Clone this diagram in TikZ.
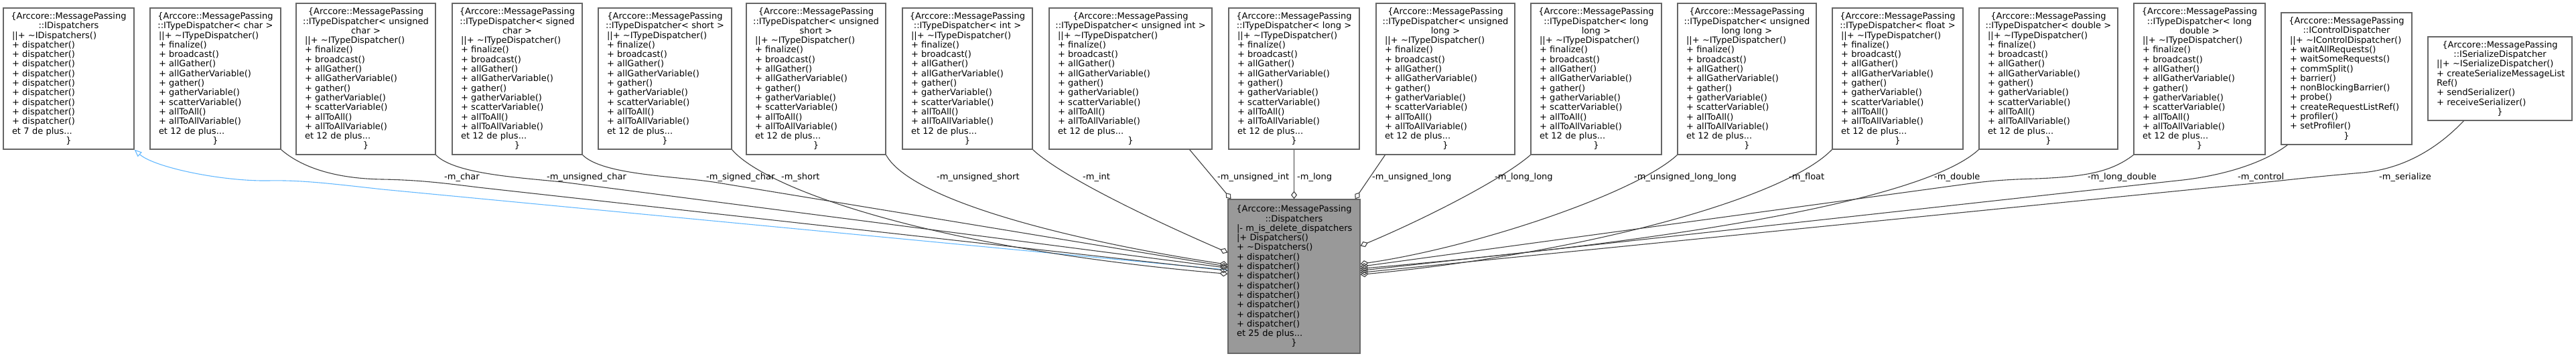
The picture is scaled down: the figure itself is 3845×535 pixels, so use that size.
\documentclass[tikz,border=0pt]{standalone}
\usepackage{fontspec}
\setmainfont{DejaVu Sans}
\usetikzlibrary{arrows.meta,calc}
\definecolor{bordergray}{HTML}{666666}
\definecolor{fillgray}{HTML}{999999}
\definecolor{edgegray}{HTML}{404040}
\definecolor{inhblue}{HTML}{63B8FF}
\newcommand\ctr[1]{\makebox[\hsize]{#1}}
\newcommand\arc{\ctr{\{Arccore::MessagePassing}}
\newcommand\tdbody{||+ \textasciitilde ITypeDispatcher()\\+ finalize()\\+ broadcast()\\+ allGather()\\+ allGatherVariable()\\+ gather()\\+ gatherVariable()\\+ scatterVariable()\\+ allToAll()\\+ allToAllVariable()\\et 12 de plus...\\\ctr{\}}}
\newcommand\dsp{+ dispatcher()}
\begin{document}
\begin{tikzpicture}[x=1pt,y=-1pt,
  bx/.style={draw=bordergray, line width=1.2pt, fill=white, align=left,
    inner xsep=12pt, inner ysep=0pt, font=\fontsize{13}{14.3}\selectfont},
  cur/.style={bx, fill=fillgray},
  mem/.style={draw=edgegray, line width=1.1pt, {Diamond[open,length=12pt,width=9pt]}-},
  inh/.style={draw=inhblue, line width=1.1pt, -{Triangle[open,length=11pt,width=9pt]}},
  lbl/.style={anchor=west, inner sep=0pt, font=\fontsize{13}{14.3}\selectfont}]
\useasboundingbox (0,0) rectangle (3845,535);

% top row
\node[bx,minimum width=195,minimum height=211,text width=169] (idisp) at (102.5,117.5)
 {\arc\\\ctr{::IDispatchers}\\||+ \textasciitilde IDispatchers()\\\dsp\\\dsp\\\dsp\\\dsp\\\dsp\\\dsp\\\dsp\\\dsp\\\dsp\\et 7 de plus...\\\ctr{\}}};
\node[bx,minimum width=195,minimum height=211,text width=169] (tchar) at (321.5,117.5)
 {\arc\\\ctr{::ITypeDispatcher< char >}\\\tdbody};
\node[bx,minimum width=208,minimum height=226,text width=182] (tuchar) at (546,118)
 {\arc\\\ctr{::ITypeDispatcher< unsigned}\\\ctr{char >}\\\tdbody};
\node[bx,minimum width=194,minimum height=226,text width=168] (tschar) at (772,118)
 {\arc\\\ctr{::ITypeDispatcher< signed}\\\ctr{char >}\\\tdbody};
\node[bx,minimum width=199,minimum height=211,text width=173] (tshort) at (992.5,117.5)
 {\arc\\\ctr{::ITypeDispatcher< short >}\\\tdbody};
\node[bx,minimum width=208,minimum height=226,text width=182] (tushort) at (1218,118)
 {\arc\\\ctr{::ITypeDispatcher< unsigned}\\\ctr{short >}\\\tdbody};
\node[bx,minimum width=194,minimum height=211,text width=168] (tint) at (1444,117.5)
 {\arc\\\ctr{::ITypeDispatcher< int >}\\\tdbody};
\node[bx,minimum width=243,minimum height=211,text width=217] (tuint) at (1687.5,117.5)
 {\arc\\\ctr{::ITypeDispatcher< unsigned int >}\\\tdbody};
\node[bx,minimum width=195,minimum height=211,text width=169] (tlong) at (1931.5,117.5)
 {\arc\\\ctr{::ITypeDispatcher< long >}\\\tdbody};
\node[bx,minimum width=207,minimum height=226,text width=181] (tulong) at (2157.5,118)
 {\arc\\\ctr{::ITypeDispatcher< unsigned}\\\ctr{long >}\\\tdbody};
\node[bx,minimum width=195,minimum height=226,text width=169] (tll) at (2382.5,118)
 {\arc\\\ctr{::ITypeDispatcher< long}\\\ctr{long >}\\\tdbody};
\node[bx,minimum width=207,minimum height=226,text width=181] (tull) at (2607.5,118)
 {\arc\\\ctr{::ITypeDispatcher< unsigned}\\\ctr{long long >}\\\tdbody};
\node[bx,minimum width=195,minimum height=211,text width=169] (tfloat) at (2832.5,117.5)
 {\arc\\\ctr{::ITypeDispatcher< float >}\\\tdbody};
\node[bx,minimum width=207,minimum height=211,text width=181] (tdouble) at (3057.5,117.5)
 {\arc\\\ctr{::ITypeDispatcher< double >}\\\tdbody};
\node[bx,minimum width=196,minimum height=226,text width=170] (tld) at (3283,118)
 {\arc\\\ctr{::ITypeDispatcher< long}\\\ctr{double >}\\\tdbody};
\node[bx,minimum width=195,minimum height=197,text width=169] (ictrl) at (3502.5,117.5)
 {\arc\\\ctr{::IControlDispatcher}\\||+ \textasciitilde IControlDispatcher()\\+ waitAllRequests()\\+ waitSomeRequests()\\+ commSplit()\\+ barrier()\\+ nonBlockingBarrier()\\+ probe()\\+ createRequestListRef()\\+ profiler()\\+ setProfiler()\\\ctr{\}}};
\node[bx,minimum width=215,minimum height=125,text width=189] (iser) at (3731.5,117.5)
 {\arc\\\ctr{::ISerializeDispatcher}\\\mbox{||+ \textasciitilde ISerializeDispatcher()}\\\mbox{+ createSerializeMessageList}\\Ref()\\+ sendSerializer()\\+ receiveSerializer()\\\ctr{\}}};

% central class
\node[cur,minimum width=197,minimum height=230,text width=171] (disp) at (1931.5,413)
 {\arc\\\ctr{::Dispatchers}\\\mbox{|- m\_is\_delete\_dispatchers}\\|+ Dispatchers()\\+ \textasciitilde Dispatchers()\\\dsp\\\dsp\\\dsp\\\dsp\\\dsp\\\dsp\\\dsp\\\dsp\\et 25 de plus...\\\ctr{\}}};

% inheritance
\draw[inh] ([yshift=-106pt]disp.north west) -- (571,283) .. controls (490,274) and (450,269) .. (400,270) .. controls (330,271) and (230,250) .. (idisp.south east);

% left members
\draw[mem] ([yshift=-107pt]disp.north west) -- (714,280) .. controls (650,272) and (620,269) .. (571,268) .. controls (500,267) and (450,250) .. (tchar.south east);
\draw[mem] ([yshift=-103pt]disp.north west) -- (847,273) .. controls (790,266) and (680,262) .. (tuchar.south east);
\draw[mem] ([yshift=-101pt]disp.north west) -- (1071,273) .. controls (1010,263) and (900,262) .. (tschar.south east);
\draw[mem] ([yshift=-112pt]disp.north west) .. controls (1380,370) and (1140,280) .. (tshort.south east);
\draw[mem] ([yshift=-98pt]disp.north west) .. controls (1600,360) and (1360,300) .. (tushort.south east);
\draw[mem] ([yshift=-80pt]disp.north west) .. controls (1700,320) and (1580,260) .. (tint.south east);
\draw[mem] ([xshift=5pt]disp.north west) -- ([xshift=-34pt]tuint.south east);
\draw[mem] (disp.north) -- (tlong.south);
% right members
\draw[mem] ([xshift=-8pt]disp.north east) -- ([xshift=14pt]tulong.south west);
\draw[mem] ([yshift=-70pt]disp.north east) .. controls (2120,330) and (2240,270) .. (tll.south west);
\draw[mem] ([yshift=-97pt]disp.north east) .. controls (2200,370) and (2440,290) .. (tull.south west);
\draw[mem] ([yshift=-113pt]disp.north east) .. controls (2350,380) and (2660,300) .. (tfloat.south west);
\draw[mem] ([yshift=-104pt]disp.north east) .. controls (2400,370) and (2860,310) .. (tdouble.south west);
\draw[mem] ([yshift=-101pt]disp.north east) -- (2935,275) .. controls (2970,270) and (3000,268) .. (3040,267) .. controls (3110,264) and (3150,258) .. (tld.south west);
\draw[mem] ([yshift=-107pt]disp.north east) -- (3249,270) .. controls (3300,265) and (3370,250) .. ([xshift=10pt]ictrl.south west);
\draw[mem] ([yshift=-110pt]disp.north east) -- (3404,270) .. controls (3440,266) and (3480,262) .. (3526,258) .. controls (3590,252) and (3640,220) .. ([xshift=54pt]iser.south west);

% labels
\node[lbl] (lchar) at (663,265) {-m\_char};
\node[lbl] (luchar) at (816,265) {-m\_unsigned\_char};
\node[lbl] (lschar) at (1054,265) {-m\_signed\_char};
\node[lbl] (lshort) at (1166,265) {-m\_short};
\node[lbl] (lushort) at (1398,265) {-m\_unsigned\_short};
\node[lbl] (lint) at (1616,265) {-m\_int};
\node[lbl] (luint) at (1817,265) {-m\_unsigned\_int};
\node[lbl] (llong) at (1936,265) {-m\_long};
\node[lbl] (lulong) at (2048,265) {-m\_unsigned\_long};
\node[lbl] (lll) at (2231,265) {-m\_long\_long};
\node[lbl] (lull) at (2439,265) {-m\_unsigned\_long\_long};
\node[lbl] (lfloat) at (2670,265) {-m\_float};
\node[lbl] (ldouble) at (2887,265) {-m\_double};
\node[lbl] (lld) at (3116,265) {-m\_long\_double};
\node[lbl] (lctrl) at (3340,265) {-m\_control};
\node[lbl] (lser) at (3551,265) {-m\_serialize};
\end{tikzpicture}
\end{document}
